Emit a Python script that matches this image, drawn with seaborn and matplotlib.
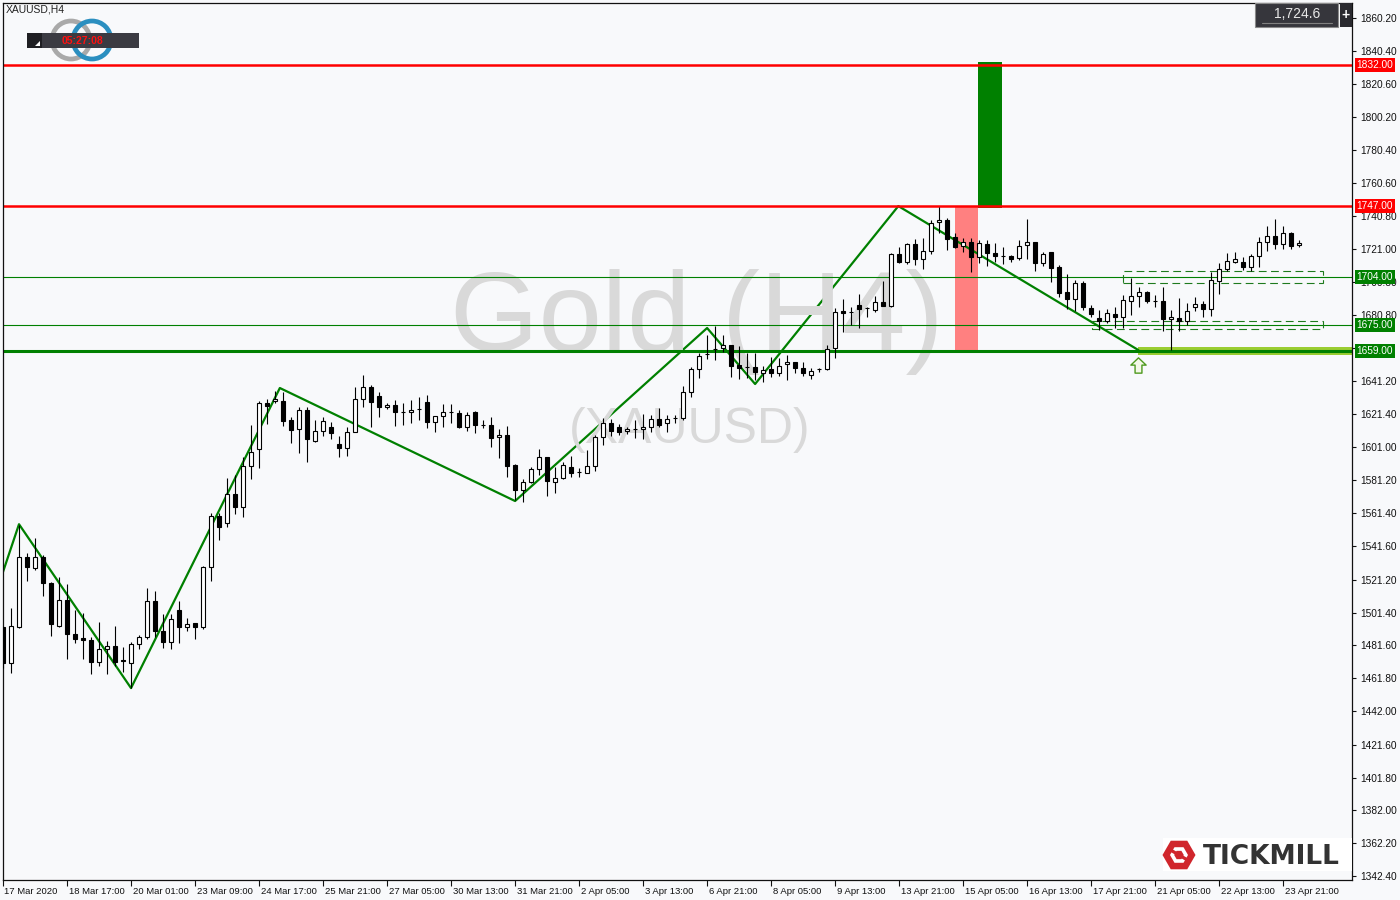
import numpy as np
import pandas as pd
import matplotlib
matplotlib.use("Agg")
import matplotlib.pyplot as plt
import matplotlib.transforms as mtransforms
from matplotlib.patches import Rectangle, Polygon, Circle, RegularPolygon
from matplotlib.path import Path
import seaborn as sns

# ---------------- data ----------------
opens = [1492.7, 1470.9, 1492.7, 1534.9, 1528.3, 1534.9, 1519.2, 1493.3, 1509.0, 1488.5,
         1486.0, 1484.8, 1471.5, 1479.4, 1481.2, 1472.7, 1470.9, 1482.4, 1486.6, 1508.4,
         1490.3, 1483.6, 1502.9, 1492.7, 1495.1, 1492.7, 1528.9, 1559.7, 1555.4, 1572.9,
         1565.1, 1589.8, 1600.1, 1627.9, 1629.1, 1629.1, 1617.6, 1612.2, 1623.7, 1605.0,
         1611.0, 1613.4, 1603.1, 1600.7, 1610.4, 1630.3, 1637.5, 1632.1, 1625.5, 1626.7,
         1622.4, 1622.4, 1624.3, 1628.5, 1616.4, 1620.0, 1622.4, 1621.8, 1613.4, 1622.4,
         1614.6, 1614.6, 1607.4, 1608.6, 1590.4, 1575.4, 1580.2, 1588.0, 1595.3, 1580.2,
         1582.6, 1589.2, 1586.2, 1585.6, 1589.8, 1607.4, 1615.8, 1613.4, 1611.0, 1612.2,
         1612.2, 1613.4, 1618.2, 1615.8, 1618.8, 1618.8, 1634.5, 1648.4, 1657.4, 1660.5,
         1661.1, 1662.9, 1650.8, 1649.6, 1649.6, 1646.0, 1648.4, 1646.0, 1651.4, 1652.6,
         1649.0, 1644.8, 1648.4, 1648.4, 1661.1, 1683.4, 1682.8, 1687.0, 1685.2, 1684.0,
         1688.8, 1686.4, 1717.8, 1713.0, 1723.8, 1714.8, 1719.6, 1737.1, 1738.3, 1728.1,
         1722.6, 1725.0, 1716.0, 1723.8, 1718.4, 1716.6, 1716.6, 1715.4, 1723.2, 1725.0,
         1712.4, 1719.0, 1710.0, 1694.9, 1690.6, 1700.3, 1685.2, 1679.2, 1677.4, 1681.6,
         1679.8, 1689.4, 1692.5, 1694.9, 1689.4, 1689.4, 1678.6, 1679.2, 1677.4, 1685.8,
         1687.6, 1684.6, 1701.5, 1708.8, 1713.0, 1713.0, 1710.0, 1716.6, 1725.0, 1728.7,
         1723.8, 1730.5, 1723.2]
highs = [1492.7, 1504.1, 1554.2, 1537.3, 1546.4, 1536.1, 1519.8, 1522.8, 1518.6, 1502.9,
         1501.1, 1486.6, 1495.7, 1484.2, 1493.3, 1480.6, 1483.6, 1487.8, 1516.2, 1514.4,
         1500.5, 1500.5, 1508.4, 1498.1, 1495.1, 1529.5, 1561.5, 1561.5, 1582.6, 1584.4,
         1595.3, 1614.6, 1629.1, 1630.3, 1635.1, 1634.5, 1619.4, 1625.5, 1625.5, 1617.6,
         1619.4, 1616.4, 1608.0, 1613.4, 1637.5, 1644.8, 1638.7, 1634.5, 1627.9, 1629.7,
         1627.9, 1629.7, 1631.5, 1632.7, 1620.0, 1627.3, 1627.3, 1623.7, 1622.4, 1623.0,
         1617.6, 1619.4, 1612.2, 1614.0, 1591.0, 1582.0, 1589.2, 1600.1, 1595.3, 1589.2,
         1592.3, 1595.9, 1588.6, 1599.5, 1608.6, 1618.8, 1618.2, 1615.2, 1613.4, 1617.6,
         1621.2, 1620.6, 1624.9, 1620.6, 1620.6, 1638.1, 1649.6, 1658.1, 1668.9, 1674.3,
         1668.9, 1662.9, 1662.3, 1658.1, 1658.1, 1650.2, 1655.6, 1655.0, 1656.8, 1652.6,
         1652.6, 1649.0, 1649.0, 1662.9, 1685.2, 1690.6, 1685.8, 1693.7, 1685.8, 1692.5,
         1701.5, 1718.4, 1722.0, 1724.4, 1726.9, 1727.5, 1738.3, 1746.2, 1739.5, 1730.5,
         1727.5, 1727.5, 1726.3, 1726.3, 1724.4, 1722.0, 1717.2, 1726.3, 1738.9, 1725.0,
         1719.0, 1719.0, 1711.2, 1705.7, 1702.1, 1701.5, 1687.0, 1684.0, 1684.6, 1685.8,
         1693.1, 1703.3, 1697.9, 1695.5, 1693.1, 1697.9, 1684.0, 1691.2, 1688.2, 1691.9,
         1689.4, 1706.9, 1712.4, 1718.4, 1719.0, 1716.0, 1717.8, 1728.1, 1734.7, 1738.9,
         1734.7, 1731.1, 1726.3]
lows = [1467.9, 1464.9, 1492.1, 1520.4, 1527.1, 1511.4, 1487.3, 1492.7, 1473.4, 1483.0,
        1473.4, 1464.3, 1469.1, 1464.3, 1469.1, 1465.5, 1455.9, 1479.4, 1485.4, 1486.6,
        1480.0, 1479.4, 1483.0, 1490.3, 1485.4, 1491.5, 1520.4, 1545.2, 1553.0, 1560.9,
        1559.1, 1582.0, 1588.6, 1615.2, 1627.9, 1614.0, 1603.7, 1597.7, 1592.3, 1604.4,
        1608.0, 1606.2, 1595.3, 1595.9, 1610.4, 1625.5, 1613.4, 1619.4, 1624.3, 1614.0,
        1614.6, 1615.8, 1617.6, 1612.8, 1610.4, 1613.4, 1615.8, 1612.8, 1611.0, 1609.8,
        1612.8, 1601.3, 1594.7, 1583.2, 1569.3, 1568.1, 1579.6, 1584.4, 1571.7, 1573.5,
        1582.0, 1583.2, 1583.2, 1585.6, 1586.8, 1602.5, 1608.0, 1608.6, 1609.2, 1606.8,
        1606.2, 1610.4, 1613.4, 1610.4, 1615.8, 1617.6, 1631.5, 1643.0, 1654.4, 1653.8,
        1658.6, 1643.5, 1642.3, 1643.0, 1641.7, 1640.5, 1643.5, 1644.2, 1641.7, 1646.0,
        1644.2, 1642.3, 1646.6, 1647.8, 1655.0, 1670.7, 1675.0, 1673.1, 1679.8, 1682.8,
        1686.4, 1685.8, 1712.4, 1711.8, 1711.2, 1708.8, 1717.8, 1730.5, 1720.2, 1721.4,
        1719.0, 1706.9, 1712.4, 1710.6, 1713.0, 1711.8, 1713.0, 1714.2, 1714.8, 1707.5,
        1710.6, 1700.9, 1691.9, 1684.6, 1683.4, 1684.0, 1679.8, 1671.9, 1676.2, 1673.1,
        1673.1, 1681.0, 1685.8, 1688.2, 1685.8, 1671.3, 1659.9, 1671.3, 1675.0, 1683.4,
        1679.8, 1680.4, 1693.7, 1707.5, 1712.4, 1708.2, 1707.5, 1710.0, 1719.6, 1720.8,
        1720.8, 1720.8, 1722.0]
closes = [1470.9, 1493.3, 1534.9, 1528.9, 1534.9, 1519.2, 1494.5, 1509.0, 1488.5, 1485.4,
          1484.8, 1471.5, 1479.4, 1481.2, 1471.5, 1472.1, 1482.4, 1486.6, 1508.4, 1490.3,
          1483.6, 1497.5, 1492.7, 1494.5, 1492.7, 1528.9, 1559.7, 1553.0, 1572.9, 1565.1,
          1589.8, 1598.3, 1627.9, 1626.1, 1630.3, 1617.0, 1611.6, 1623.7, 1606.2, 1611.0,
          1617.0, 1609.8, 1600.7, 1610.4, 1630.3, 1637.5, 1628.5, 1625.5, 1626.7, 1622.4,
          1622.4, 1623.7, 1624.3, 1616.4, 1620.0, 1622.4, 1622.4, 1613.4, 1620.6, 1614.6,
          1614.6, 1606.8, 1608.6, 1589.8, 1575.4, 1580.2, 1588.0, 1595.3, 1580.8, 1582.6,
          1590.4, 1585.6, 1586.2, 1589.8, 1607.4, 1615.8, 1611.0, 1610.4, 1612.2, 1612.2,
          1613.4, 1618.2, 1614.6, 1618.2, 1618.8, 1634.5, 1648.4, 1656.2, 1657.4, 1660.5,
          1662.9, 1650.2, 1649.0, 1649.6, 1646.6, 1647.8, 1646.0, 1650.2, 1652.6, 1649.0,
          1646.0, 1647.2, 1648.4, 1660.5, 1682.8, 1682.2, 1682.8, 1684.6, 1685.2, 1688.8,
          1686.4, 1717.8, 1713.0, 1723.8, 1714.8, 1719.6, 1736.5, 1738.3, 1726.9, 1722.0,
          1725.0, 1716.0, 1724.4, 1718.4, 1716.6, 1716.6, 1714.8, 1722.6, 1725.0, 1712.4,
          1717.8, 1709.4, 1694.3, 1690.6, 1700.3, 1685.8, 1681.6, 1677.4, 1682.2, 1679.8,
          1690.0, 1692.5, 1694.9, 1689.4, 1689.4, 1678.6, 1679.8, 1677.4, 1683.4, 1687.6,
          1684.6, 1702.1, 1708.8, 1713.6, 1714.8, 1710.0, 1716.6, 1725.0, 1728.7, 1723.8,
          1730.5, 1722.6, 1724.6]

date_labels = ["17 Mar 2020", "18 Mar 17:00", "20 Mar 01:00", "23 Mar 09:00", "24 Mar 17:00",
               "25 Mar 21:00", "27 Mar 05:00", "30 Mar 13:00", "31 Mar 21:00", "2 Apr 05:00",
               "3 Apr 13:00", "6 Apr 21:00", "8 Apr 05:00", "9 Apr 13:00", "13 Apr 21:00",
               "15 Apr 05:00", "16 Apr 13:00", "17 Apr 21:00", "21 Apr 05:00", "22 Apr 13:00",
               "23 Apr 21:00"]
label_step = 8

ytick_values = [1860.2, 1840.4, 1820.6, 1800.2, 1780.4, 1760.6, 1740.8, 1721.0, 1700.8,
                1680.8, 1661.0, 1641.2, 1621.4, 1601.0, 1581.2, 1561.4, 1541.6, 1521.2,
                1501.4, 1481.6, 1461.8, 1442.0, 1421.6, 1401.8, 1382.0, 1362.2, 1342.4]
hidden_tick_labels = [1661.0]   # fully covered by the 1659.00 tag in the reference

level_prices = [1832.0, 1747.0, 1704.0, 1675.0, 1659.0]
level_colors = ["#FF0000", "#FF0000", "#008000", "#008000", "#008000"]
level_widths = [1.8, 1.8, 0.8, 0.8, 2.2]

zigzag_bar = [0, 2, 16, 34.6, 64, 88, 94, 111.9, 141.9]
zigzag_price = [1525.9, 1554.7, 1455.8, 1636.9, 1568.7, 1673.1, 1639.3, 1746.7, 1659.8]

sell_zone = dict(x0=119.0, x1=121.9, y0=1659.0, y1=1747.0)
target_zone = dict(x0=121.9, x1=124.9, y0=1745.5, y1=1833.5)
support_band = dict(x0=141.9, y0=1656.8, y1=1661.6)
upper_box = dict(x0=140.0, x1=165.0, y0=1700.3, y1=1707.5)
lower_box = dict(x0=136.1, x1=165.0, y0=1672.5, y1=1677.3)
arrow_point = (141.9, 1650.8)
last_price = "1,724.6"

# ---------------- style ----------------
sns.set_theme(style="white")
plt.rcParams["font.family"] = ["Liberation Sans", "DejaVu Sans"]
BG = "#F8F9FB"

fig = plt.figure(figsize=(14, 9), dpi=100, facecolor=BG)
ax = fig.add_axes([3 / 1400, 20 / 900, 1349 / 1400, 877 / 900])
ax.set_facecolor(BG)

df = pd.DataFrame({"open": opens, "high": highs, "low": lows, "close": closes})
df["bar"] = np.arange(len(df))
up = df["close"] >= df["open"]

# watermark
ax.text(0.5145, 0.636, "Gold (H4)", transform=ax.transAxes, fontsize=82, color="#D9D9D9",
        ha="center", va="center", zorder=2)
ax.text(0.509, 0.513, "(XAUUSD)", transform=ax.transAxes, fontsize=36, color="#D9D9D9",
        ha="center", va="center", zorder=2)

# zones
ax.add_patch(Rectangle((sell_zone["x0"], sell_zone["y0"]), sell_zone["x1"] - sell_zone["x0"],
                       sell_zone["y1"] - sell_zone["y0"], fc="#FF8080", ec="none", zorder=1))
ax.add_patch(Rectangle((target_zone["x0"], target_zone["y0"]), target_zone["x1"] - target_zone["x0"],
                       target_zone["y1"] - target_zone["y0"], fc="#008000", ec="none", zorder=1))
xmax = 168.6
ax.add_patch(Rectangle((support_band["x0"], support_band["y0"]), xmax - support_band["x0"],
                       support_band["y1"] - support_band["y0"], fc="#9ACD32", ec="none", zorder=1.2))

# zigzag (seaborn)
sns.lineplot(x=zigzag_bar, y=zigzag_price, ax=ax, color="#008000", lw=1.6,
             sort=False, estimator=None, zorder=1.5)

# horizontal levels
for p, c, w in zip(level_prices, level_colors, level_widths):
    ax.axhline(p, color=c, lw=w, zorder=2.5)

# dashed boxes
for b in (upper_box, lower_box):
    ax.add_patch(Rectangle((b["x0"], b["y0"]), b["x1"] - b["x0"], b["y1"] - b["y0"],
                           fill=False, ec="#1E7A1E", lw=0.8, ls=(0, (7, 4)), zorder=2.6))

# candles
ax.vlines(df["bar"], df["low"], df["high"], color="black", lw=0.8, zorder=3)
ax.bar(df["bar"], df["close"] - df["open"], bottom=df["open"], width=0.55,
       color=np.where(up, "white", "black"), edgecolor="black", linewidth=0.8, zorder=4)

# arrow marker
arrow_path = Path([(-1, 0.05), (0, 1), (1, 0.05), (0.45, 0.05), (0.45, -1), (-0.45, -1),
                   (-0.45, 0.05), (-1, 0.05)],
                  [Path.MOVETO] + [Path.LINETO] * 6 + [Path.CLOSEPOLY])
ax.plot([arrow_point[0]], [arrow_point[1]], marker=arrow_path, ms=11, mfc="#F4F8E8",
        mec="#4E9A1E", mew=1.0, ls="none", zorder=5)

# axes
ax.set_xlim(0, xmax)
ax.set_ylim(1339.98, 1869.25)
ax.set_xlabel("")
ax.set_ylabel("")
ax.yaxis.tick_right()
ax.set_yticks(ytick_values)
ax.set_yticklabels(["" if v in hidden_tick_labels else f"{v:.2f}" for v in ytick_values])
ax.tick_params(axis="y", direction="out", length=3, width=0.8, pad=3, labelsize=7.3,
               colors="#111111", right=True, left=False)
ax.set_xticks([i * label_step for i in range(len(date_labels))])
ax.set_xticklabels(date_labels)
ax.tick_params(axis="x", direction="out", length=4, width=0.8, pad=1, labelsize=6.8,
               colors="#111111", bottom=True)
offset = mtransforms.ScaledTranslation(1.5 / 100, 0, fig.dpi_scale_trans)
for lbl in ax.get_xticklabels():
    lbl.set_horizontalalignment("left")
    lbl.set_transform(lbl.get_transform() + offset)
for s in ax.spines.values():
    s.set_color("#111111")
    s.set_linewidth(0.9)
ax.grid(False)

# level price tags on right axis
blend = mtransforms.blended_transform_factory(ax.transAxes, ax.transData)
for p, c in zip(level_prices, level_colors):
    ax.text(1.0035, p, f"{p:.2f}", transform=blend, fontsize=7.3, color="white",
            ha="left", va="center", clip_on=False, zorder=20,
            bbox=dict(boxstyle="square,pad=0.2", fc=c, ec="none"))

# ---------------- pixel decorations ----------------
deco = fig.add_axes([0, 0, 1, 1], zorder=5)
deco.set_xlim(0, 1400)
deco.set_ylim(900, 0)
deco.axis("off")
deco.patch.set_alpha(0)

deco.text(6, 10, "XAUUSD,H4", fontsize=7.5, color="#222222", ha="left", va="center")
deco.add_patch(Circle((71, 40), 19, fill=False, ec="#A9A9A9", lw=3.4, zorder=1))
deco.add_patch(Circle((92, 40), 19, fill=False, ec="#2B8FC0", lw=3.4, zorder=1.1))
deco.add_patch(Rectangle((27, 33), 112, 15, fc="#3B3B42", ec="none", zorder=2))
deco.add_patch(Rectangle((27, 33), 15, 15, fc="#1F1F23", ec="none", zorder=2.1))
deco.add_patch(Polygon([(35, 46), (40, 46), (40, 41)], closed=True, fc="white", ec="none",
                       zorder=2.2))
deco.text(83, 41, "05:27:08", fontsize=7.5, color="#FF1010", fontweight="bold",
          ha="center", va="center", zorder=3)

deco.add_patch(Rectangle((1255, 3), 83, 24, fc="#36363C", ec="#8A8A8A", lw=0.8))
deco.plot([1262, 1332], [23, 23], color="#808080", lw=0.8)
deco.text(1297, 13.5, last_price, fontsize=10, color="#E8E8E8", ha="center", va="center")
deco.add_patch(Rectangle((1340, 3), 12, 24, fc="#2A2A2F", ec="none"))
deco.text(1346, 15, "+", fontsize=10, color="white", fontweight="bold", ha="center", va="center")

deco.add_patch(Rectangle((1163, 838), 189, 33, fc="white", ec="none"))
deco.add_patch(RegularPolygon((1179, 855), 6, radius=16.5, orientation=np.pi / 6,
                              fc="#D0262C", ec="none"))
deco.add_patch(RegularPolygon((1179, 855), 6, radius=9, orientation=np.pi / 6,
                              fc="white", ec="none"))
deco.add_patch(RegularPolygon((1179, 855), 6, radius=4.8, orientation=np.pi / 6,
                              fc="#D0262C", ec="none"))
deco.add_patch(Polygon([(1169, 851), (1172, 849), (1189, 859), (1186, 861)], closed=True,
                       fc="#D0262C", ec="none"))
deco.text(1203, 857, "TICKMILL", fontsize=19, fontweight="bold", color="#333333",
          family="DejaVu Sans", ha="left", va="center")

fig.savefig("out.png", dpi=100, facecolor=BG)
